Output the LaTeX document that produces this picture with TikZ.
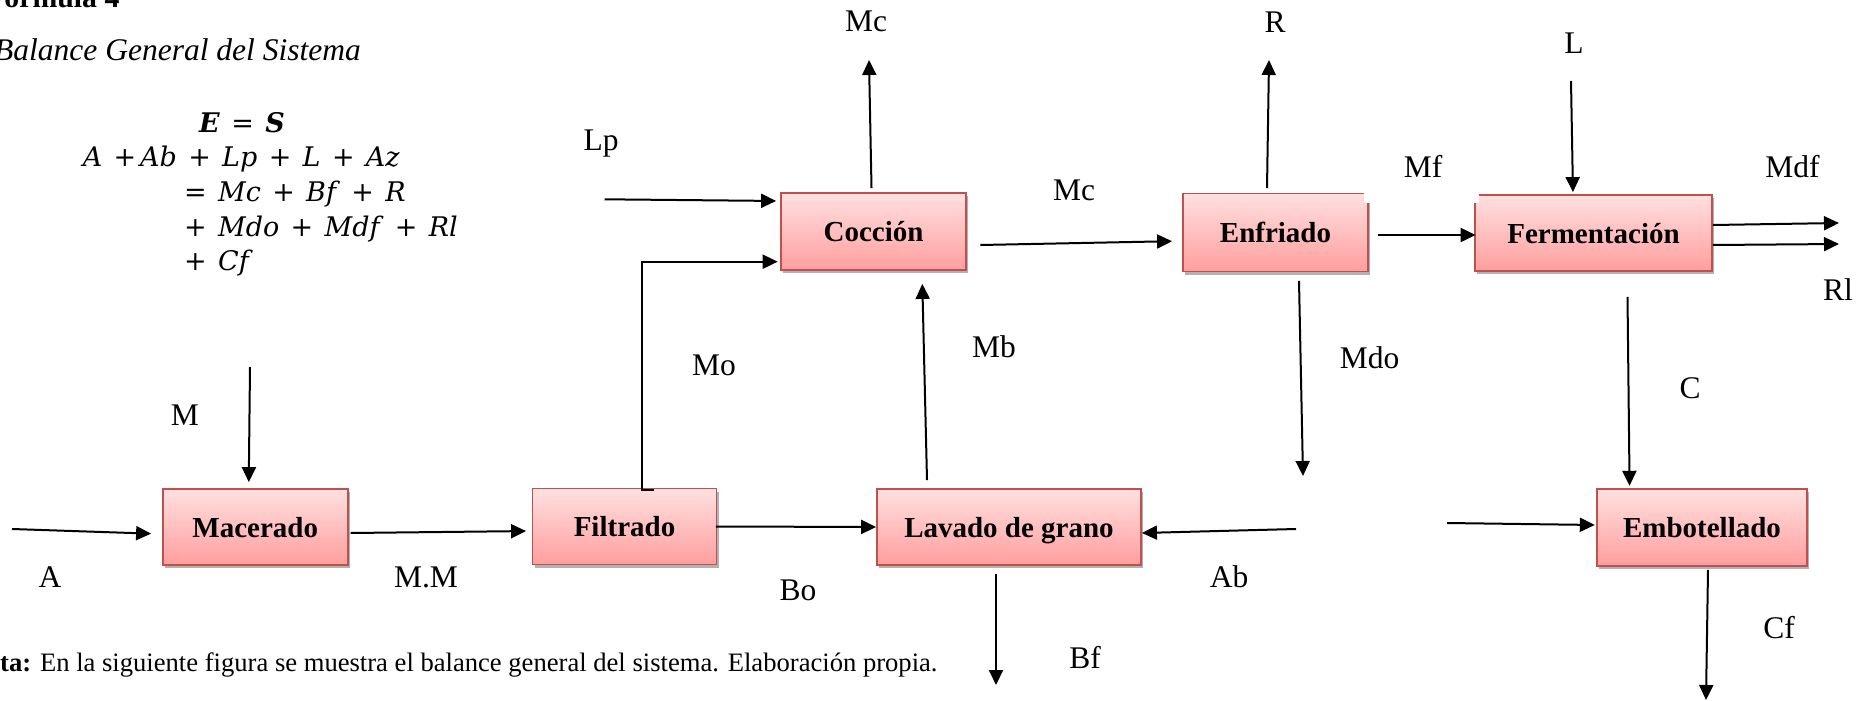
\documentclass[tikz,border=0pt]{standalone}
\usepackage{fontspec}
\setmainfont{Liberation Serif}
\newfontfamily\eqfont{DejaVu Serif}
\usetikzlibrary{arrows.meta,shadows}
\definecolor{boxedge}{HTML}{C0504D}
\definecolor{boxtop}{RGB}{255,224,224}
\definecolor{boxbot}{RGB}{255,158,158}
\newcommand{\mv}[1]{\textit{#1}}
\newcommand{\op}[1]{\hspace{0.42em}#1\hspace{0.42em}}

\begin{document}
\begin{tikzpicture}[x=1pt,y=-1pt,
  proc/.style={draw=boxedge, line width=1.8pt, top color=boxtop, bottom color=boxbot,
    drop shadow={shadow xshift=2pt,shadow yshift=-3pt,opacity=0.3,fill=black},
    font=\fontsize{29}{32}\selectfont\bfseries, text height=20pt, text depth=0pt,
    inner sep=0pt},
  lbl/.style={anchor=base, inner sep=0pt, font=\fontsize{31.5}{36}\selectfont},
  arr/.style={line width=2pt, -{Triangle[length=15pt,width=14pt]}},
  eq/.style={anchor=base west, inner sep=0pt, font=\eqfont\fontsize{27}{30}\selectfont}]

\useasboundingbox (0,0) rectangle (1868,701);
\clip (0,0) rectangle (1868,701);

% heading and caption
\node[anchor=base west, inner sep=0pt, font=\fontsize{29.8}{34}\selectfont\bfseries] (title) at (-14,8) {Fórmula 4};
\node[anchor=base west, inner sep=0pt, font=\fontsize{31.5}{36}\selectfont\itshape] (subtitle) at (-6,60) {Balance General del Sistema};
\node[anchor=base west, inner sep=0pt, font=\fontsize{26.6}{30}\selectfont] (note) at (-32.5,671)
  {\textbf{Nota:} En la siguiente figura se muestra el balance general del sistema. Elaboración propia.};

% balance equation
\node[eq, anchor=base] (e0) at (242,132) {\textbf{\mv{E}}\op{=}\textbf{\mv{S}}};
\node[eq] (e1) at (82.7,166.7) {\mv{A}\hspace{0.42em}+\hspace{0.14em}\mv{Ab}\op{+}\mv{Lp}\op{+}\mv{L}\op{+}\mv{Az}};
\node[eq] (e2) at (184,201.7) {=\hspace{0.42em}\mv{Mc}\op{+}\mv{Bf}\op{+}\mv{R}};
\node[eq] (e3) at (184,236.7) {+\hspace{0.42em}\mv{Mdo}\op{+}\mv{Mdf}\op{+}\mv{Rl}};
\node[eq] (e4) at (184,270.7) {+\hspace{0.42em}\mv{Cf}};

% process units
\node[proc, minimum width=185pt, minimum height=76pt] (mac) at (255.2,527) {Macerado};
\node[proc, minimum width=184pt, minimum height=76pt] (fil) at (624.5,526.5) {Filtrado};
\node[proc, minimum width=264pt, minimum height=76pt] (lav) at (1009,527) {Lavado de grano};
\node[proc, minimum width=185pt, minimum height=77pt] (coc) at (873.5,231.5) {Cocción};
\node[proc, minimum width=185pt, minimum height=78pt] (enf) at (1275.5,232.5) {Enfriado};
\node[proc, minimum width=237pt, minimum height=76pt] (fer) at (1593.5,233) {Fermentación};
\node[proc, minimum width=210pt, minimum height=77pt] (emb) at (1702,527.5) {Embotellado};

% white patch between Enfriado and Fermentación
\fill[white] (1363.5,180) rectangle (1478.6,203);

% free stream ends
\coordinate (inA) at (12,529);
\coordinate (inM) at (250,367);
\coordinate (inLp) at (604.5,199.3);
\coordinate (outMc) at (869,60);
\coordinate (outR) at (1269,60);
\coordinate (inL) at (1571,81);
\coordinate (outMdf) at (1839,223);
\coordinate (outRl) at (1839,244);
\coordinate (outMdo) at (1303,476);
\coordinate (inAb) at (1296,529);
\coordinate (inEmb) at (1447,523);
\coordinate (outCf) at (1706,700);
\coordinate (outBf) at (996,685);

% streams
\draw[arr, shorten >=10.7pt] (inA) -- ([yshift=-7pt]mac.west);
\draw[arr, shorten >=6pt] (inM) -- ([xshift=-6.5pt]mac.north);
\draw[arr, shorten >=5.5pt] ([xshift=2pt,yshift=-6pt]mac.east) -- ([yshift=-4.5pt]fil.west);
\draw[arr] ([xshift=-1.5pt]fil.east) -- (lav.west);
\draw[arr, shorten >=2.4pt] ([xshift=29.5pt,yshift=-2.5pt]fil.north) -- ++(-12.5,0) |- ([yshift=-30.2pt]coc.west);
\draw[arr, shorten >=4pt] (inLp) -- ([yshift=30.5pt]coc.west);
\draw[arr] ([xshift=-2pt,yshift=4pt]coc.north) -- (outMc);
\draw[arr, shorten >=13pt] ([xshift=-82pt,yshift=8pt]lav.north) -- ([xshift=48.5pt]coc.south);
\draw[arr, shorten >=10pt] ([xshift=13.5pt,yshift=-13.5pt]coc.east) -- ([yshift=-8.5pt]enf.west);
\draw[arr] ([xshift=-8.5pt,yshift=4.5pt]enf.north) -- (outR);
\draw[arr] ([xshift=9pt,yshift=-2.5pt]enf.east) -- ([xshift=1.5pt,yshift=-2pt]fer.west);
\draw[arr, shorten >=2pt] (inL) -- ([xshift=-20.5pt]fer.north);
\draw[arr] ([yshift=8pt]fer.east) -- (outMdf);
\draw[arr] ([yshift=-12pt]fer.east) -- (outRl);
\draw[arr] ([xshift=23.5pt,yshift=-8.5pt]enf.south) -- (outMdo);
\draw[arr] (inAb) -- ([yshift=-6pt]lav.east);
\draw[arr, shorten >=1.3pt] (inEmb) -- ([yshift=2.5pt]emb.west);
\draw[arr, shorten >=2.3pt] ([xshift=34pt,yshift=-25pt]fer.south) -- ([xshift=-72.4pt]emb.north);
\draw[arr] ([xshift=6pt,yshift=-3pt]emb.south) -- (outCf);
\draw[arr] ([xshift=-13pt,yshift=-8pt]lav.south) -- (outBf);

% stream labels
\node[lbl] (lMc1) at (866,32) {Mc};
\node[lbl] (lR) at (1275,33) {R};
\node[lbl] (lL) at (1574,54) {L};
\node[lbl] (lLp) at (601,150) {Lp};
\node[lbl] (lMc2) at (1074,200) {Mc};
\node[lbl] (lMf) at (1423,177) {Mf};
\node[lbl] (lMdf) at (1792.5,177) {Mdf};
\node[lbl] (lRl) at (1838,300) {Rl};
\node[lbl] (lMb) at (994,357) {Mb};
\node[lbl] (lMo) at (714,375) {Mo};
\node[lbl] (lMdo) at (1369.5,368) {Mdo};
\node[lbl] (lC) at (1690,398) {C};
\node[lbl] (lM) at (185,425) {M};
\node[lbl] (lA) at (50,587) {A};
\node[lbl] (lMM) at (426,587) {M.M};
\node[lbl] (lBo) at (798,600) {Bo};
\node[lbl] (lAb) at (1229,587) {Ab};
\node[lbl] (lBf) at (1085,668) {Bf};
\node[lbl] (lCf) at (1779,638) {Cf};
\end{tikzpicture}
\end{document}
